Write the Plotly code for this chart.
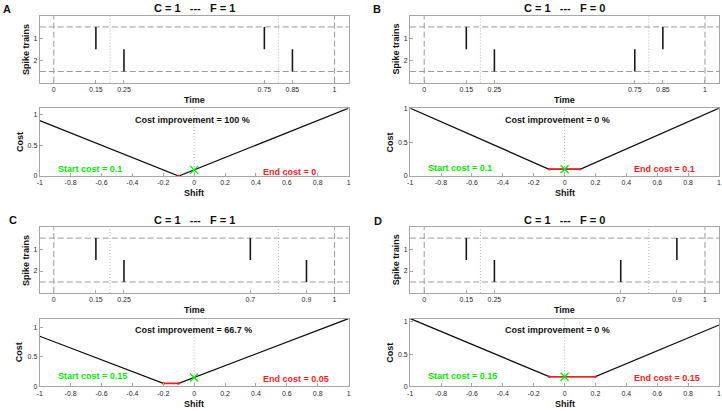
import plotly.graph_objects as go

# ---------------- data ----------------
panel_labels = ["A", "B", "C", "D"]
C_values = [1, 1, 1, 1]
F_values = [1, 0, 1, 0]
train1 = [[0.15, 0.75], [0.15, 0.85], [0.15, 0.7], [0.15, 0.9]]
train2 = [[0.25, 0.85], [0.25, 0.75], [0.25, 0.9], [0.25, 0.7]]
time_ticks = [
    [0, 0.15, 0.25, 0.75, 0.85, 1],
    [0, 0.15, 0.25, 0.75, 0.85, 1],
    [0, 0.15, 0.25, 0.7, 0.9, 1],
    [0, 0.15, 0.25, 0.7, 0.9, 1],
]
window_edges = [0.2, 0.8]
recording_bounds = [0, 1]
shift_x = [[-1, -0.1, 1], [-1, -0.1, 0.1, 1], [-1, -0.2, -0.1, 1], [-1, -0.1, 0.2, 1]]
cost_y = [[0.9, 0, 1.1], [1, 0.1, 0.1, 1], [0.85, 0.05, 0.05, 1.15], [1.05, 0.15, 0.15, 0.95]]
min_shift = [[-0.1, -0.1], [-0.1, 0.1], [-0.2, -0.1], [-0.1, 0.2]]
min_cost = [0, 0.1, 0.05, 0.15]
start_cost = [0.1, 0.1, 0.15, 0.15]
end_cost = [0, 0.1, 0.05, 0.15]
improvement = ["100", "0", "66.7", "0"]
shift_ticks = [-1, -0.8, -0.6, -0.4, -0.2, 0, 0.2, 0.4, 0.6, 0.8, 1]
cost_ticks = [0, 0.5, 1]

# ---------------- layout geometry (pixels) ----------------
W, H = 722, 411
col_x = [(37, 348), (410, 721)]
row_top = [(12, 80), (227, 294)]
row_bot = [(106, 175), (320, 389)]
start_frac = [0.11, 0.116, 0.15, 0.16]
end_frac = [0.058, 0.11, 0.116, 0.13]

FONT = "Liberation Sans, Arial, Helvetica, sans-serif"
AXC = "#a6a6a6"
TXT = "#1f1f1f"
GREEN = "#00ee00"
RED = "#ff1a1a"


def px(x):
    return x / W


def py(y):
    return 1 - y / H


def fmt(v):
    return "%g" % v


fig = go.Figure()
annotations = []
shapes = []

for i in range(4):
    r, c = divmod(i, 2)
    x0p, x1p = col_x[c]
    tt, tb = row_top[r]
    bt, bb = row_bot[r]
    ta = 2 * i + 1
    ba = 2 * i + 2
    txa = "x" if ta == 1 else "x%d" % ta
    tya = "y" if ta == 1 else "y%d" % ta
    bxa = "x%d" % ba
    bya = "y%d" % ba

    # --- spike trains ---
    for j, train in enumerate([train1[i], train2[i]], start=1):
        xs, ys = [], []
        for t in train:
            xs += [t, t, None]
            ys += [j - 0.5, j + 0.5, None]
        fig.add_trace(go.Scatter(x=xs, y=ys, mode="lines", xaxis=txa, yaxis=tya,
                                 line=dict(color="#1a1a1a", width=1.6),
                                 showlegend=False, hoverinfo="skip"))

    # dashed guide lines
    for yv in [0.5, 2.5]:
        shapes.append(dict(type="line", xref=txa + " domain", yref=tya, x0=0, x1=1, y0=yv, y1=yv,
                           line=dict(color="#9a9a9a", width=1, dash="6px,3px"), layer="below"))
    for xv in recording_bounds:
        shapes.append(dict(type="line", xref=txa, yref=tya + " domain", x0=xv, x1=xv, y0=0, y1=1,
                           line=dict(color="#9a9a9a", width=1, dash="6px,3px"), layer="below"))
    for xv in window_edges:
        shapes.append(dict(type="line", xref=txa, yref=tya + " domain", x0=xv, x1=xv, y0=0, y1=1,
                           line=dict(color="#b5b5b5", width=1, dash="1px,2px"), layer="below"))

    # --- cost curve ---
    fig.add_trace(go.Scatter(x=shift_x[i], y=cost_y[i], mode="lines", xaxis=bxa, yaxis=bya,
                             line=dict(color="#111111", width=1.3),
                             showlegend=False, hoverinfo="skip"))
    fig.add_trace(go.Scatter(x=min_shift[i], y=[min_cost[i]] * 2, mode="lines+markers",
                             xaxis=bxa, yaxis=bya,
                             line=dict(color=RED, width=1.4),
                             marker=dict(color=RED, size=2.5),
                             showlegend=False, hoverinfo="skip"))
    fig.add_trace(go.Scatter(x=[0], y=[start_cost[i]], mode="markers", xaxis=bxa, yaxis=bya,
                             marker=dict(symbol="x-thin", size=8, color=GREEN,
                                         line=dict(color=GREEN, width=1.3)),
                             showlegend=False, hoverinfo="skip"))
    shapes.append(dict(type="line", xref=bxa, yref=bya + " domain", x0=0, x1=0, y0=0, y1=1,
                       line=dict(color="#b5b5b5", width=1, dash="1px,2px"), layer="below"))

    ymax = max(cost_y[i])

    axis_common = dict(showline=True, mirror=True, linecolor=AXC, linewidth=1,
                       ticks="inside", ticklen=3, tickcolor=AXC, showgrid=False, zeroline=False,
                       tickfont=dict(family=FONT, size=7, color=TXT), fixedrange=True)

    fig.layout["xaxis" if ta == 1 else "xaxis%d" % ta] = dict(
        axis_common, domain=[px(x0p), px(x1p)], anchor=tya, range=[-0.05, 1.05],
        tickmode="array", tickvals=time_ticks[i], ticktext=[fmt(v) for v in time_ticks[i]])
    fig.layout["yaxis" if ta == 1 else "yaxis%d" % ta] = dict(
        axis_common, domain=[py(tb), py(tt)], anchor=txa, range=[3, 0],
        tickmode="array", tickvals=[1, 2], ticktext=["1", "2"])
    fig.layout["xaxis%d" % ba] = dict(
        axis_common, domain=[px(x0p), px(x1p)], anchor=bya, range=[-1, 1],
        tickmode="array", tickvals=shift_ticks, ticktext=[fmt(v) for v in shift_ticks])
    fig.layout["yaxis%d" % ba] = dict(
        axis_common, domain=[py(bb), py(bt)], anchor=bxa, range=[0, ymax],
        tickmode="array", tickvals=cost_ticks, ticktext=[fmt(v) for v in cost_ticks])

    cx = (x0p + x1p) / 2
    bold = lambda s: "<b>" + s + "</b>"
    sp = "\u00a0"
    # title
    annotations.append(dict(text=bold("C = %d%s---%sF = %d" % (C_values[i], sp * 3, sp * 3, F_values[i])),
                            xref="paper", yref="paper", x=px(cx), y=py(tt - 7.5),
                            xanchor="center", yanchor="middle", showarrow=False,
                            font=dict(family=FONT, size=11, color="#111")))
    # panel label
    lx = [4.5, 377, 10, 378][i]
    ly = [4.7, 4.7, 220, 220.7][i]
    annotations.append(dict(text=bold(panel_labels[i]), xref="paper", yref="paper",
                            x=px(lx), y=py(ly), xanchor="center", yanchor="middle",
                            showarrow=False, font=dict(family=FONT, size=11, color="#111")))
    # axis titles
    annotations.append(dict(text=bold("Time"), xref="paper", yref="paper", x=px(cx), y=py(tb + 17.5),
                            xanchor="center", yanchor="middle", showarrow=False,
                            font=dict(family=FONT, size=9, color="#111")))
    annotations.append(dict(text=bold("Shift"), xref="paper", yref="paper", x=px(cx), y=py(bb + 17.5),
                            xanchor="center", yanchor="middle", showarrow=False,
                            font=dict(family=FONT, size=9, color="#111")))
    annotations.append(dict(text=bold("Spike trains"), xref="paper", yref="paper", x=px(x0p - 14),
                            y=py((tt + tb) / 2), xanchor="center", yanchor="middle", textangle=-90,
                            showarrow=False, font=dict(family=FONT, size=9, color="#111")))
    annotations.append(dict(text=bold("Cost"), xref="paper", yref="paper", x=px(x0p - 20),
                            y=py((bt + bb) / 2), xanchor="center", yanchor="middle", textangle=-90,
                            showarrow=False, font=dict(family=FONT, size=9, color="#111")))
    # in-plot texts
    annotations.append(dict(text=bold("Cost improvement = %s %%" % improvement[i]),
                            xref=bxa + " domain", yref=bya + " domain", x=0.302, y=0.825,
                            xanchor="left", yanchor="middle", showarrow=False,
                            font=dict(family=FONT, size=9, color="#111")))
    annotations.append(dict(text=bold("Start cost = %s" % fmt(start_cost[i])),
                            xref=bxa + " domain", yref=bya + " domain", x=0.052, y=start_frac[i],
                            xanchor="left", yanchor="middle", showarrow=False,
                            font=dict(family=FONT, size=9, color=GREEN)))
    annotations.append(dict(text=bold("End cost = %s" % fmt(end_cost[i])),
                            xref=bxa + " domain", yref=bya + " domain", x=0.717, y=end_frac[i],
                            xanchor="left", yanchor="middle", showarrow=False,
                            font=dict(family=FONT, size=9, color=RED)))

fig.update_layout(width=W, height=H, margin=dict(l=0, r=0, t=0, b=0),
                  paper_bgcolor="white", plot_bgcolor="white",
                  annotations=annotations, shapes=shapes, showlegend=False,
                  font=dict(family=FONT, color=TXT))

fig.write_html("out.html", config={"displayModeBar": False, "staticPlot": True},
               post_script="document.body.style.margin='0';document.body.style.overflow='hidden';")
